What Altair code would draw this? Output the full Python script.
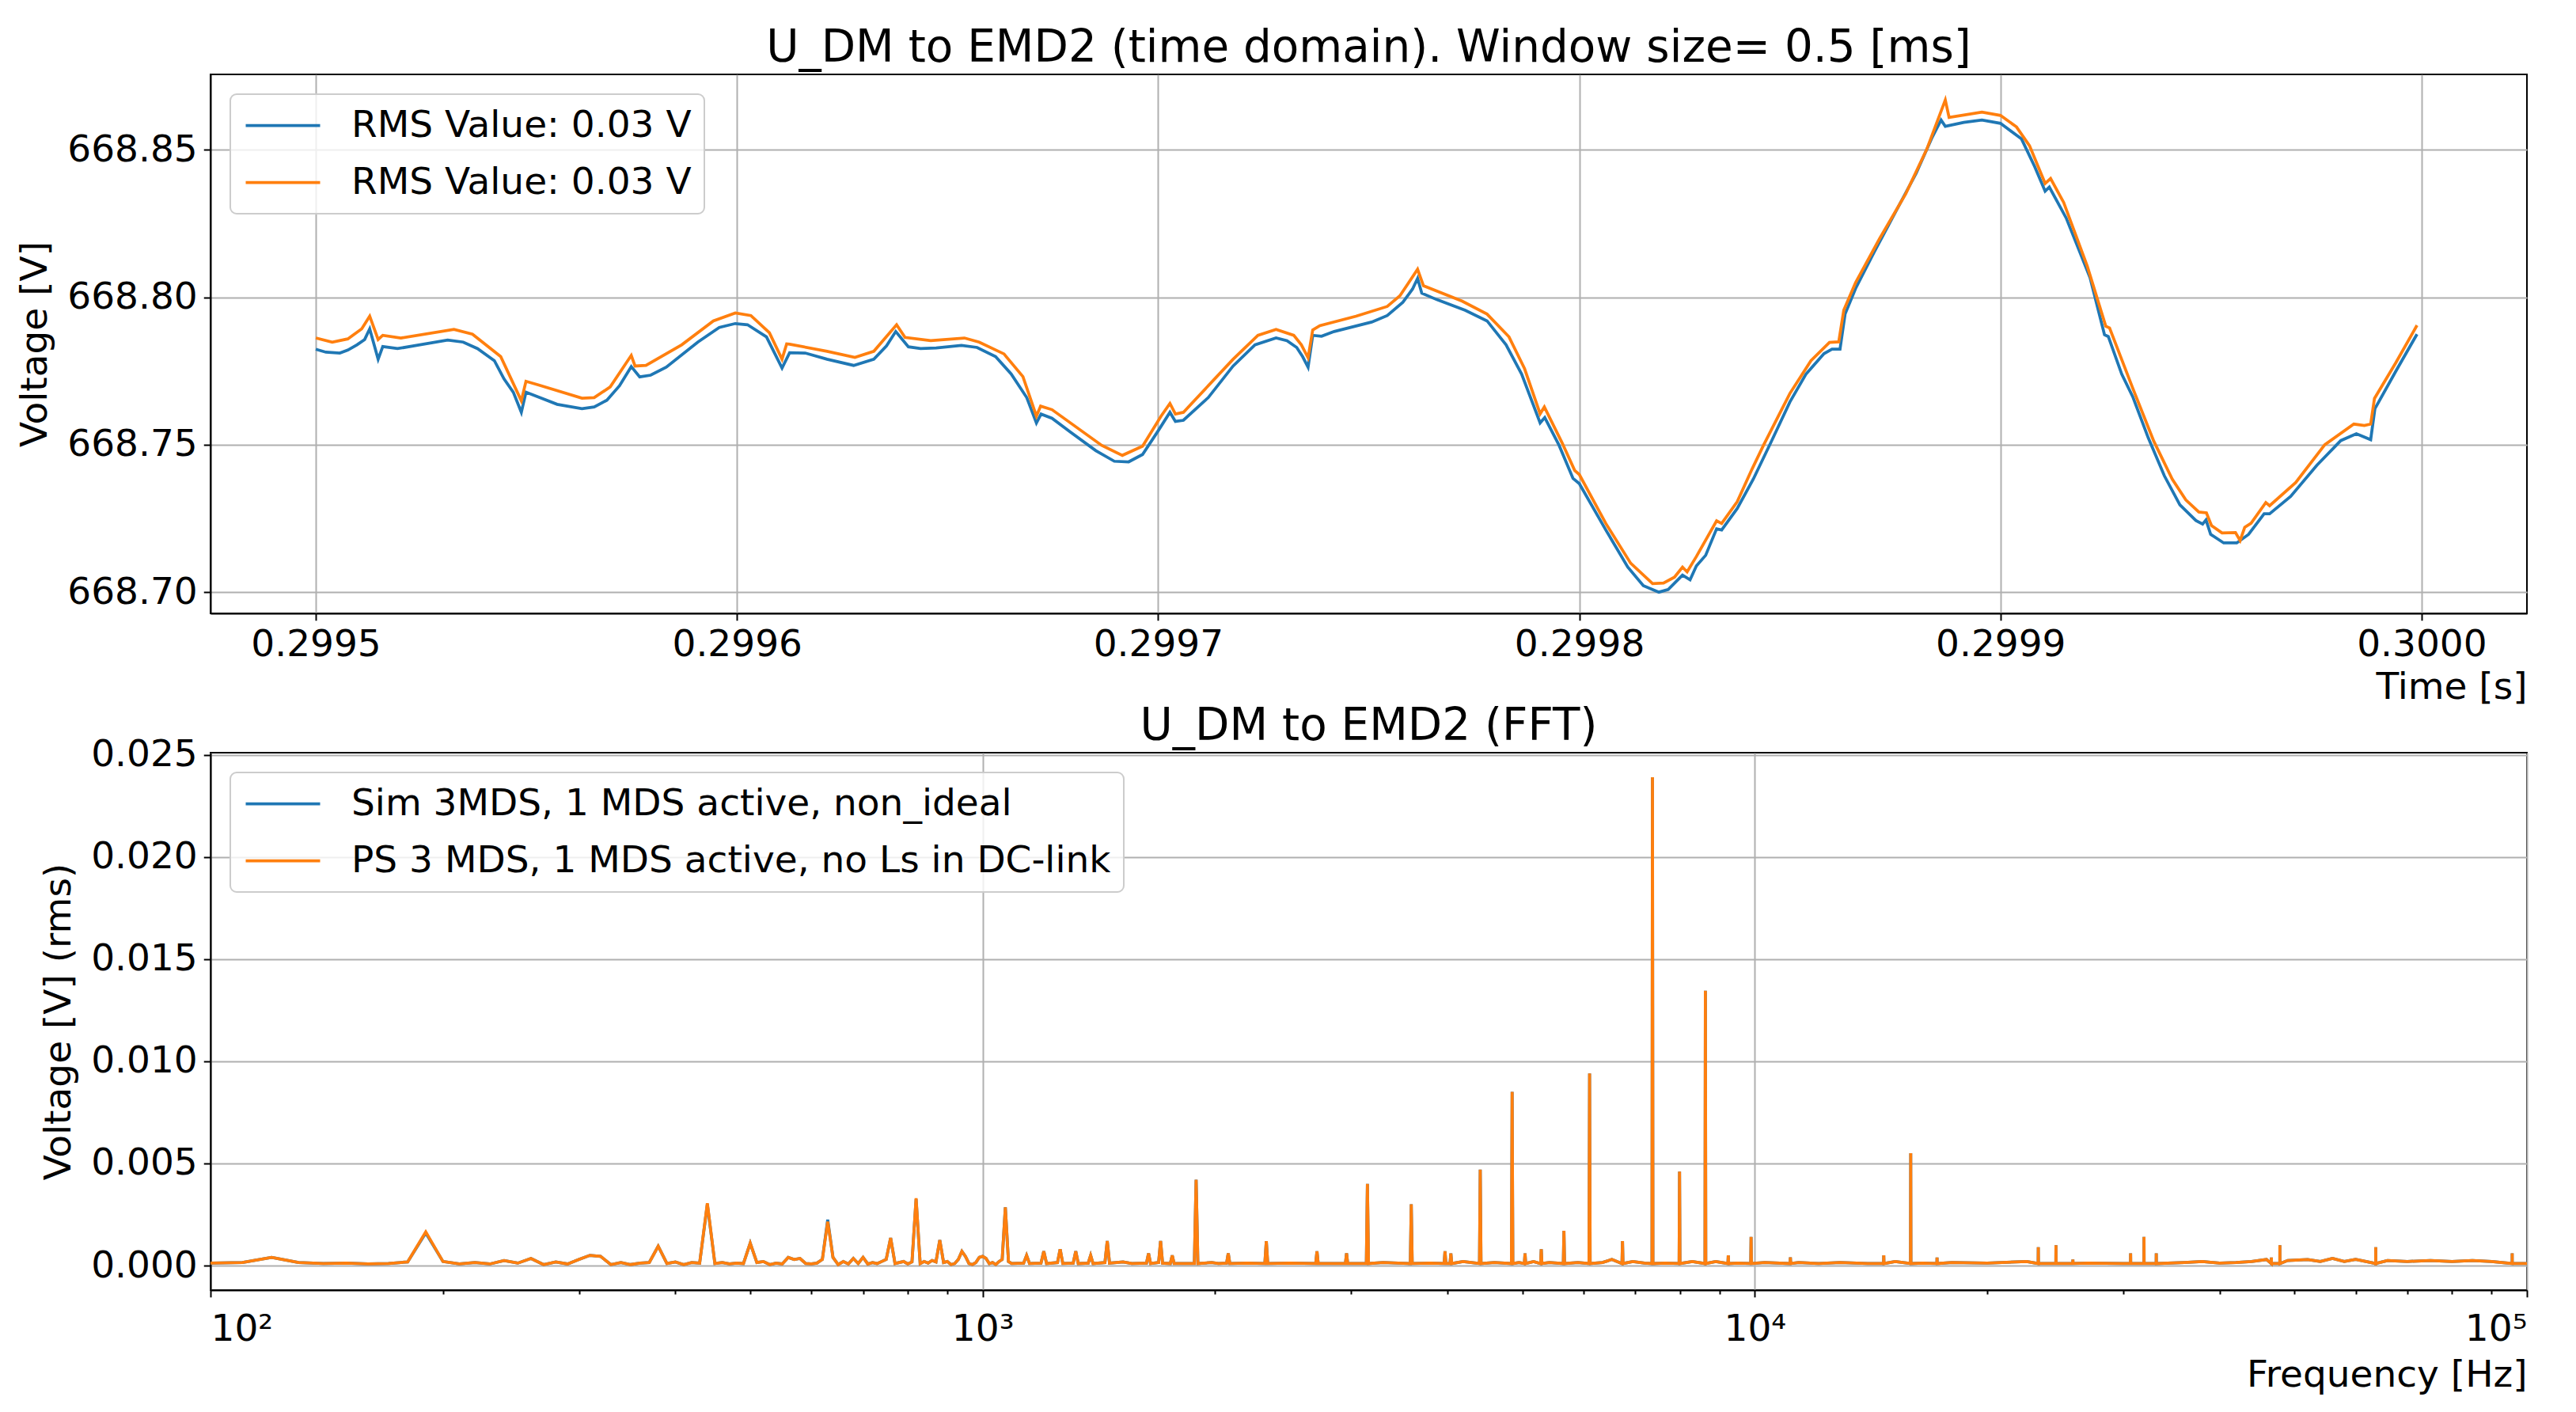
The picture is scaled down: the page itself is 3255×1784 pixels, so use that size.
import altair as alt
import pandas as pd

FONT = "DejaVu Sans"
BLUE = "#1f77b4"
ORANGE = "#ff7f0e"

# ---------------- Top panel: time domain (time as microseconds after 0.2995 s) -------------
t_sim_us = [0, 2.4, 5.7, 7.6, 9.8, 11.6, 12.8, 14.8, 15.9, 19.4, 23.9, 31.3, 35.0, 38.4, 42.4,
            44.7, 46.9, 48.8, 49.9, 52.8, 57.3, 63.2, 66.1, 69.1, 72.1, 74.9, 76.9, 79.5, 83.2,
            90.7, 95.8, 99.6, 102.5, 107.0, 110.7, 112.5, 116.2, 121.4, 127.7, 132.5, 135.5,
            137.7, 140.7, 143.6, 147.3, 153.3, 157.0, 161.4, 165.1, 168.8, 171.1, 172.2, 174.8,
            179.2, 185.2, 189.6, 193.0, 196.3, 200.0, 202.8, 204.1, 206.0, 211.9, 217.8, 223.0,
            228.0, 230.6, 232.9, 234.3, 235.6, 236.7, 238.8, 241.8, 250.7, 254.4, 258.1, 260.4,
            261.6, 262.6, 266.2, 272.9, 278.1, 282.6, 286.3, 290.7, 291.8, 295.2, 298.5, 300.0,
            306.3, 311.5, 315.2, 318.9, 321.1, 324.5, 326.3, 327.8, 330.0, 332.6, 333.8, 337.5,
            341.3, 345.6, 350.0, 353.8, 358.1, 360.0, 361.9, 363.1, 365.6, 370.0, 375.0, 380.0,
            383.8, 385.9, 386.9, 391.3, 395.6, 400.0, 405.0, 408.1, 410.6, 411.6, 415.6, 421.3,
            424.7, 425.6, 428.8, 431.4, 435.1, 438.9, 442.6, 446.4, 448.0, 448.8, 449.9, 453.0,
            456.1, 458.9, 462.6, 463.9, 468.9, 475.1, 480.8, 484.5, 487.9, 488.9, 493.9, 498.9]
v_sim = [668.7824, 668.7814, 668.7811, 668.7821, 668.7839, 668.7857, 668.7893, 668.7790,
         668.7833, 668.7826, 668.7837, 668.7855, 668.7848, 668.7826, 668.7785, 668.7723,
         668.7678, 668.7610, 668.7678, 668.7662, 668.7637, 668.7622, 668.7628, 668.7651,
         668.7700, 668.7765, 668.7730, 668.7736, 668.7763, 668.7848, 668.7898, 668.7911,
         668.7907, 668.7866, 668.7760, 668.7812, 668.7811, 668.7790, 668.7769, 668.7790,
         668.7835, 668.7884, 668.7832, 668.7826, 668.7828, 668.7837, 668.7830, 668.7799,
         668.7740, 668.7660, 668.7574, 668.7604, 668.7590, 668.7543, 668.7480, 668.7444,
         668.7442, 668.7467, 668.7547, 668.7610, 668.7579, 668.7583, 668.7660, 668.7767,
         668.7839, 668.7862, 668.7853, 668.7830, 668.7799, 668.7763, 668.7871, 668.7868,
         668.7884, 668.7916, 668.7938, 668.7983, 668.8028, 668.8064, 668.8014, 668.7992,
         668.7956, 668.7920, 668.7839, 668.7740, 668.7574, 668.7592, 668.7498, 668.7386,
         668.7368, 668.7211, 668.7085, 668.7022, 668.7000, 668.7009, 668.7058, 668.7042,
         668.7089, 668.7125, 668.7215, 668.7211, 668.7284, 668.7383, 668.7511, 668.7645,
         668.7739, 668.7809, 668.7824, 668.7824, 668.7943, 668.8030, 668.8153, 668.8287,
         668.8421, 668.8543, 668.8601, 668.8580, 668.8593, 668.8601, 668.8590, 668.8537,
         668.8444, 668.8360, 668.8374, 668.8269, 668.8065, 668.7873, 668.7867, 668.7739,
         668.7663, 668.7523, 668.7395, 668.7296, 668.7243, 668.7231, 668.7245, 668.7196,
         668.7167, 668.7167, 668.7196, 668.7266, 668.7266, 668.7325, 668.7430, 668.7514,
         668.7537, 668.7517, 668.7622, 668.7750, 668.7875]

t_ps_us = [0, 3.9, 7.6, 10.9, 12.8, 14.8, 15.9, 20.2, 32.8, 37.2, 43.9, 48.8, 49.9, 52.8, 63.2,
           66.1, 69.9, 74.9, 75.8, 78.4, 86.9, 94.4, 99.6, 103.3, 107.7, 110.7, 111.8, 112.5,
           121.4, 128.0, 132.5, 137.9, 139.9, 146.0, 154.0, 157.5, 163.4, 167.9, 171.1, 172.1,
           174.8, 186.6, 191.5, 196.3, 200.7, 202.8, 204.1, 206.0, 217.8, 223.7, 228.0, 232.2,
           234.0, 235.6, 236.7, 238.4, 247.0, 254.4, 257.4, 261.6, 263.0, 272.2, 278.1, 283.3,
           287.0, 290.7, 291.7, 295.9, 298.9, 300.0, 306.3, 312.2, 317.4, 320.0, 322.6, 324.5,
           325.6, 327.8, 332.6, 333.8, 337.5, 341.0, 343.8, 350.0, 355.0, 359.4, 361.6, 362.8,
           365.6, 371.3, 377.5, 382.5, 386.9, 387.8, 395.6, 400.0, 403.8, 406.9, 410.6, 411.9,
           415.0, 420.6, 425.0, 425.9, 431.4, 436.4, 440.8, 444.0, 447.1, 448.9, 450.1, 452.6,
           455.8, 456.9, 458.0, 459.5, 463.0, 463.9, 470.1, 477.0, 483.9, 486.4, 487.9, 488.8,
           493.9, 498.9]
v_ps = [668.7862, 668.7848, 668.7859, 668.7893, 668.7936, 668.7857, 668.7871, 668.7862,
        668.7891, 668.7875, 668.7799, 668.7649, 668.7715, 668.7703, 668.7658, 668.7660,
        668.7696, 668.7803, 668.7767, 668.7769, 668.7839, 668.7920, 668.7947, 668.7938,
        668.7880, 668.7790, 668.7842, 668.7841, 668.7817, 668.7796, 668.7817, 668.7907,
        668.7864, 668.7853, 668.7862, 668.7848, 668.7808, 668.7731, 668.7597, 668.7631,
        668.7619, 668.7498, 668.7464, 668.7495, 668.7597, 668.7640, 668.7604, 668.7610,
        668.7790, 668.7871, 668.7891, 668.7871, 668.7839, 668.7795, 668.7889, 668.7904,
        668.7936, 668.7969, 668.8005, 668.8095, 668.8039, 668.7987, 668.7943, 668.7866,
        668.7758, 668.7605, 668.7628, 668.7507, 668.7413, 668.7399, 668.7233, 668.7098,
        668.7029, 668.7031, 668.7051, 668.7085, 668.7069, 668.7121, 668.7242, 668.7233,
        668.7307, 668.7417, 668.7500, 668.7674, 668.7785, 668.7847, 668.7849, 668.7957,
        668.8050, 668.8199, 668.8351, 668.8502, 668.8669, 668.8610, 668.8628, 668.8617,
        668.8578, 668.8514, 668.8386, 668.8403, 668.8322, 668.8106, 668.7902, 668.7896,
        668.7692, 668.7512, 668.7383, 668.7313, 668.7272, 668.7269, 668.7226, 668.7201,
        668.7202, 668.7175, 668.7220, 668.7234, 668.7304, 668.7293, 668.7372, 668.7500,
        668.7570, 668.7565, 668.7570, 668.7657, 668.7779, 668.7905]

top_x_ticks = [0.2995, 0.2996, 0.2997, 0.2998, 0.2999, 0.3000]
top_y_ticks = [668.70, 668.75, 668.80, 668.85]

# ---------------- Bottom panel: FFT -------------
fft_freq = [100, 110, 120, 130, 140, 150, 160, 170, 180, 190, 200, 210, 220, 230, 240, 250, 260,
            270, 280, 290, 300, 310, 320, 330, 340, 350, 360, 370, 380, 390, 400, 410, 420, 430,
            440, 450, 460, 470, 480, 490, 500, 510, 520, 530, 540, 550, 560, 570, 580, 590, 600,
            610, 620, 630, 640, 650, 660, 670, 680, 690, 700, 710, 720, 730, 740, 750, 760, 770,
            780, 790, 800, 810, 820, 830, 840, 850, 860, 870, 880, 890, 900, 910, 920, 930, 940,
            950, 960, 970, 980, 990, 1000, 1010, 1020, 1030, 1040, 1050, 1060, 1070, 1080, 1090,
            1130, 1140, 1150, 1190, 1200, 1210, 1250, 1260, 1270, 1310, 1320, 1330, 1370, 1380,
            1390, 1440, 1450, 1460, 1520, 1560, 1630, 1640, 1650, 1690, 1700, 1710, 1750, 1760,
            1770, 1880, 1890, 1900, 1980, 2020, 2070, 2080, 2090, 2200, 2320, 2330, 2340, 2500,
            2700, 2710, 2720, 2950, 2960, 2970, 3140, 3150, 3160, 3300, 3580, 3590, 3600, 3800,
            3960, 3970, 3980, 4030, 4040, 4050, 4190, 4400, 4410, 4420, 4600, 4840, 4850, 4860,
            4950, 5030, 5040, 5050, 5170, 5280, 5290, 5300, 5420, 5650, 5660, 5670, 5900, 6100,
            6110, 6120, 6350, 6530, 6730, 6740, 6750, 6950, 7200, 7360, 7370, 7380, 7650, 7980,
            7990, 8000, 8300, 8620, 8630, 8640, 8900, 9230, 9240, 9250, 9500, 9880, 9890, 9900,
            10300, 11110, 11120, 11130, 11400, 12100, 12900, 14000, 14680, 14690, 14700, 15200,
            15910, 15920, 15930, 16500, 17210, 17220, 17230, 18000, 20000, 22500, 23280, 23290,
            23300, 24540, 24550, 24560, 25810, 25820, 25830, 27000, 30000, 30660, 30670, 30680,
            31910, 31920, 31930, 33100, 33110, 33120, 36000, 38000, 40000, 42000, 44000, 46000,
            46660, 46670, 46680, 47860, 47870, 47880, 49000, 52000, 54000, 56000, 58000, 60000,
            63700, 63710, 63720, 66000, 70000, 75000, 80000, 85000, 90000, 95690, 95700, 95710,
            100000]
fft_ps = [0.00012, 0.00015, 0.00040, 0.00015, 0.00010, 0.00012, 0.00008, 0.00010, 0.00018,
          0.00165, 0.00020, 0.00008, 0.00015, 0.00008, 0.00025, 0.00012, 0.00035, 0.00005,
          0.00018, 0.00008, 0.00030, 0.00050, 0.00045, 0.00005, 0.00015, 0.00005, 0.00012,
          0.00015, 0.00095, 0.00010, 0.00018, 0.00005, 0.00015, 0.00012, 0.00305, 0.00010,
          0.00015, 0.00008, 0.00012, 0.00010, 0.00110, 0.00015, 0.00020, 0.00005, 0.00012,
          0.00008, 0.00040, 0.00030, 0.00035, 0.00010, 0.00008, 0.00012, 0.00030, 0.00215,
          0.00040, 0.00005, 0.00020, 0.00008, 0.00035, 0.00010, 0.00040, 0.00008, 0.00015,
          0.00010, 0.00020, 0.00030, 0.00135, 0.00010, 0.00015, 0.00020, 0.00008, 0.00018,
          0.00330, 0.00010, 0.00020, 0.00012, 0.00025, 0.00018, 0.00125, 0.00015, 0.00020,
          0.00005, 0.00010, 0.00030, 0.00070, 0.00045, 0.00010, 0.00005, 0.00015, 0.00040,
          0.00045, 0.00035, 0.00010, 0.00015, 0.00005, 0.00020, 0.00030, 0.00285, 0.00020,
          0.00010,
          0.00012, 0.00050, 0.00010, 0.00012, 0.00070, 0.00010, 0.00015, 0.00080, 0.00010,
          0.00012, 0.00070, 0.00010, 0.00012, 0.00050, 0.00010, 0.00015, 0.00120, 0.00012,
          0.00018, 0.00010, 0.00012, 0.00060, 0.00010, 0.00015, 0.00120, 0.00012, 0.00010,
          0.00050, 0.00010, 0.00010, 0.00420, 0.00010, 0.00015, 0.00010, 0.00012, 0.00060,
          0.00010, 0.00012, 0.00010, 0.00120, 0.00010, 0.00012, 0.00010, 0.00070, 0.00010,
          0.00010, 0.00060, 0.00010, 0.00010, 0.00400, 0.00010, 0.00015, 0.00010, 0.00300,
          0.00010, 0.00012, 0.00010, 0.00070, 0.00010, 0.00010, 0.00060, 0.00010, 0.00020,
          0.00010, 0.00470, 0.00010, 0.00015, 0.00010, 0.00850, 0.00010, 0.00015, 0.00010,
          0.00060, 0.00010, 0.00020, 0.00010, 0.00080, 0.00010, 0.00015, 0.00010, 0.00170,
          0.00010, 0.00015, 0.00010, 0.00940, 0.00010, 0.00015, 0.00030, 0.00010, 0.00120,
          0.00010, 0.00020, 0.00012, 0.00010, 0.02390, 0.00010, 0.00012, 0.00010, 0.00460,
          0.00010, 0.00020, 0.00010, 0.01345, 0.00010, 0.00020, 0.00010, 0.00050, 0.00010,
          0.00012, 0.00010, 0.00140, 0.00010, 0.00015, 0.00010, 0.00040, 0.00010, 0.00015,
          0.00010, 0.00015, 0.00010, 0.00010, 0.00050, 0.00010, 0.00020, 0.00010, 0.00550,
          0.00010, 0.00012, 0.00010, 0.00040, 0.00010, 0.00015, 0.00012, 0.00020, 0.00010,
          0.00090, 0.00010, 0.00010, 0.00100, 0.00010, 0.00010, 0.00030, 0.00010, 0.00012,
          0.00010, 0.00010, 0.00060, 0.00010, 0.00010, 0.00140, 0.00010, 0.00010, 0.00060,
          0.00010, 0.00015, 0.00020, 0.00012, 0.00015, 0.00020, 0.00030, 0.00010, 0.00040,
          0.00010, 0.00010, 0.00100, 0.00010, 0.00025, 0.00030, 0.00020, 0.00035, 0.00020,
          0.00030, 0.00010, 0.00090, 0.00010, 0.00025, 0.00020, 0.00025, 0.00020, 0.00025,
          0.00020, 0.00010, 0.00060, 0.00010, 0.00010]
fft_sim = [0.00012, 0.00015, 0.00040, 0.00015, 0.00010, 0.00012, 0.00008, 0.00010, 0.00018,
           0.00160, 0.00020, 0.00008, 0.00015, 0.00008, 0.00025, 0.00012, 0.00035, 0.00005,
           0.00018, 0.00008, 0.00030, 0.00050, 0.00045, 0.00005, 0.00015, 0.00005, 0.00012,
           0.00015, 0.00095, 0.00010, 0.00018, 0.00005, 0.00015, 0.00012, 0.00300, 0.00010,
           0.00015, 0.00008, 0.00012, 0.00010, 0.00110, 0.00015, 0.00020, 0.00005, 0.00012,
           0.00008, 0.00040, 0.00030, 0.00035, 0.00010, 0.00008, 0.00012, 0.00030, 0.00225,
           0.00040, 0.00005, 0.00020, 0.00008, 0.00035, 0.00010, 0.00040, 0.00008, 0.00015,
           0.00010, 0.00020, 0.00030, 0.00135, 0.00010, 0.00015, 0.00020, 0.00008, 0.00018,
           0.00325, 0.00010, 0.00020, 0.00012, 0.00025, 0.00018, 0.00125, 0.00015, 0.00020,
           0.00005, 0.00010, 0.00030, 0.00070, 0.00045, 0.00010, 0.00005, 0.00015, 0.00040,
           0.00045, 0.00035, 0.00010, 0.00015, 0.00005, 0.00020, 0.00030, 0.00285, 0.00020,
           0.00010,
           0.00012, 0.00050, 0.00010, 0.00012, 0.00070, 0.00010, 0.00015, 0.00080, 0.00010,
           0.00012, 0.00070, 0.00010, 0.00012, 0.00050, 0.00010, 0.00015, 0.00120, 0.00012,
           0.00018, 0.00010, 0.00012, 0.00060, 0.00010, 0.00015, 0.00120, 0.00012, 0.00010,
           0.00050, 0.00010, 0.00010, 0.00420, 0.00010, 0.00015, 0.00010, 0.00012, 0.00060,
           0.00010, 0.00012, 0.00010, 0.00120, 0.00010, 0.00012, 0.00010, 0.00070, 0.00010,
           0.00010, 0.00060, 0.00010, 0.00010, 0.00400, 0.00010, 0.00015, 0.00010, 0.00300,
           0.00010, 0.00012, 0.00010, 0.00070, 0.00010, 0.00010, 0.00060, 0.00010, 0.00020,
           0.00010, 0.00470, 0.00010, 0.00015, 0.00010, 0.00850, 0.00010, 0.00015, 0.00010,
           0.00060, 0.00010, 0.00020, 0.00010, 0.00080, 0.00010, 0.00015, 0.00010, 0.00170,
           0.00010, 0.00015, 0.00010, 0.00940, 0.00010, 0.00015, 0.00030, 0.00010, 0.00120,
           0.00010, 0.00020, 0.00012, 0.00010, 0.02390, 0.00010, 0.00012, 0.00010, 0.00460,
           0.00010, 0.00020, 0.00010, 0.01345, 0.00010, 0.00020, 0.00010, 0.00050, 0.00010,
           0.00012, 0.00010, 0.00140, 0.00010, 0.00015, 0.00010, 0.00040, 0.00010, 0.00015,
           0.00010, 0.00015, 0.00010, 0.00010, 0.00050, 0.00010, 0.00020, 0.00010, 0.00550,
           0.00010, 0.00012, 0.00010, 0.00040, 0.00010, 0.00015, 0.00012, 0.00020, 0.00010,
           0.00090, 0.00010, 0.00010, 0.00100, 0.00010, 0.00010, 0.00030, 0.00010, 0.00012,
           0.00010, 0.00010, 0.00060, 0.00010, 0.00010, 0.00140, 0.00010, 0.00010, 0.00060,
           0.00010, 0.00015, 0.00020, 0.00012, 0.00015, 0.00020, 0.00030, 0.00010, 0.00040,
           0.00010, 0.00010, 0.00100, 0.00010, 0.00025, 0.00030, 0.00020, 0.00035, 0.00020,
           0.00030, 0.00010, 0.00090, 0.00010, 0.00025, 0.00020, 0.00025, 0.00020, 0.00025,
           0.00020, 0.00010, 0.00060, 0.00010, 0.00010]

fft_x_major = [100, 1000, 10000, 100000]
fft_x_minor = [200, 300, 400, 500, 600, 700, 800, 900,
               2000, 3000, 4000, 5000, 6000, 7000, 8000, 9000,
               20000, 30000, 40000, 50000, 60000, 70000, 80000, 90000]
fft_y_ticks = [0.0, 0.005, 0.010, 0.015, 0.020, 0.025]

SIM_LABEL = "Sim 3MDS, 1 MDS active, non_ideal"
PS_LABEL = "PS 3 MDS, 1 MDS active, no Ls in DC-link"

# ---------------- frames ----------------
top_df = pd.concat([
    pd.DataFrame({"time": [0.2995 + u * 1e-6 for u in t_sim_us], "v": v_sim, "series": "sim"}),
    pd.DataFrame({"time": [0.2995 + u * 1e-6 for u in t_ps_us], "v": v_ps, "series": "ps"}),
], ignore_index=True)

fft_df = pd.concat([
    pd.DataFrame({"f": fft_freq, "a": fft_sim, "series": SIM_LABEL}),
    pd.DataFrame({"f": fft_freq, "a": fft_ps, "series": PS_LABEL}),
], ignore_index=True)

LW = 3.75
W = 2927
FS = 47
TFS = 56.4

legend_common = dict(
    title=None, orient="none", legendX=25, legendY=25,
    symbolType="M-2.35,0L2.35,0", symbolStrokeWidth=LW, symbolSize=1600,
    symbolOffset=27, labelOffset=63,
    labelFont=FONT, labelFontSize=FS, labelColor="black", labelLimit=2000,
    rowPadding=24, padding=16,
    fillColor="rgba(255,255,255,0.8)", strokeColor="#cccccc",
    cornerRadius=8,
)

# top
top_color = alt.Color("series:N",
                      scale=alt.Scale(domain=["sim", "ps"], range=[BLUE, ORANGE]),
                      legend=alt.Legend(labelExpr="'RMS Value: 0.03 V'", **legend_common))
top_base = alt.Chart(top_df).mark_line(strokeWidth=LW, clip=True).encode(
    x=alt.X("time:Q", title="Time [s]",
            scale=alt.Scale(domain=[0.299475, 0.300025], nice=False, zero=False),
            axis=alt.Axis(values=top_x_ticks, format=".4f", titleAnchor="end", titlePadding=8)),
    y=alt.Y("v:Q", title="Voltage [V]",
            scale=alt.Scale(domain=[668.6928, 668.8756], nice=False, zero=False),
            axis=alt.Axis(values=top_y_ticks, format=".2f", titlePadding=16)),
    color=top_color,
)
top = alt.layer(
    top_base.transform_filter("datum.series == 'sim'"),
    top_base.transform_filter("datum.series == 'ps'"),
).properties(
    width=W, height=681,
    title=alt.TitleParams("U_DM to EMD2 (time domain). Window size= 0.5 [ms]", fontSize=TFS,
                          font=FONT, fontWeight="normal", color="black", offset=5),
)

# bottom
is_major = "datum.value == 100 || datum.value == 1000 || datum.value == 10000 || datum.value == 100000"
fft_color = alt.Color("series:N",
                      scale=alt.Scale(domain=[SIM_LABEL, PS_LABEL], range=[BLUE, ORANGE]),
                      legend=alt.Legend(**legend_common))
fft_base = alt.Chart(fft_df).mark_line(strokeWidth=LW, clip=True).encode(
    x=alt.X("f:Q", title="Frequency [Hz]",
            scale=alt.Scale(type="log", domain=[100, 100000], nice=False),
            axis=alt.Axis(values=fft_x_major + fft_x_minor, titleAnchor="end",
                          titlePadding=12, labelPadding=18,
                          labelExpr="datum.value == 100 ? '10²' : datum.value == 1000 ? '10³' : datum.value == 10000 ? '10⁴' : datum.value == 100000 ? '10⁵' : ''",
                          tickSize={"condition": {"test": is_major, "value": 8.75}, "value": 5},
                          gridOpacity={"condition": {"test": is_major, "value": 1}, "value": 0})),
    y=alt.Y("a:Q", title="Voltage [V] (rms)",
            scale=alt.Scale(domain=[-0.0012, 0.0251], nice=False, zero=False),
            axis=alt.Axis(values=fft_y_ticks, format=".3f", titlePadding=16)),
    color=fft_color,
)
bottom = alt.layer(
    fft_base.transform_filter(alt.datum.series == SIM_LABEL),
    fft_base.transform_filter(alt.datum.series == PS_LABEL),
).properties(
    width=W, height=679,
    title=alt.TitleParams("U_DM to EMD2 (FFT)", fontSize=TFS,
                          font=FONT, fontWeight="normal", color="black", offset=-17),
)

chart = alt.vconcat(top, bottom, spacing=-4).resolve_scale(
    color="independent").resolve_legend(color="independent").properties(
    padding={"left": 11, "top": 23, "right": 10, "bottom": 10},
    background="white",
).configure_axis(
    labelFont=FONT, titleFont=FONT, labelFontSize=FS, titleFontSize=FS,
    labelColor="black", titleColor="black", titleFontWeight="normal",
    tickColor="black", tickWidth=2, tickSize=8.75, labelPadding=8,
    domainColor="black", domainWidth=2, gridColor="#b0b0b0", gridWidth=2,
).configure_legend(strokeWidth=2).configure_view(stroke="black", strokeWidth=2)

chart.save("out.html", embed_options={"renderer": "svg", "actions": False})
